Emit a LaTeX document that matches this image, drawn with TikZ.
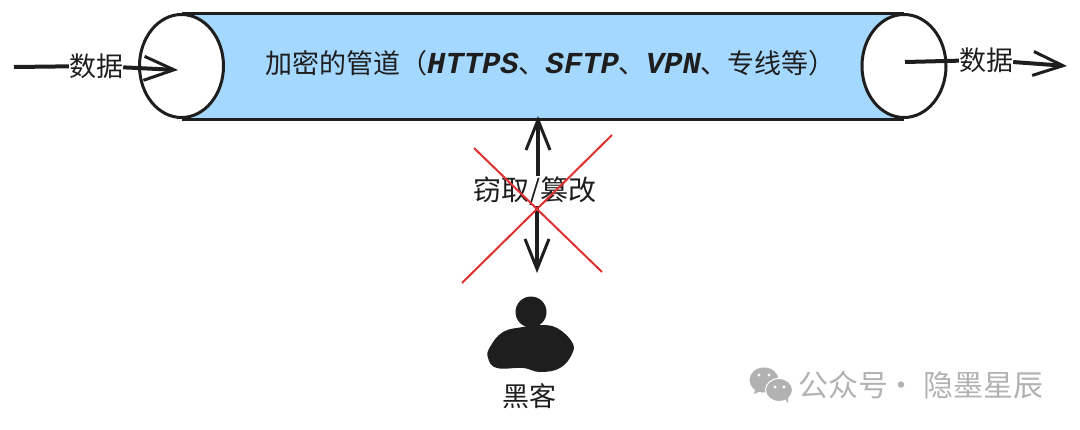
\documentclass[tikz,border=0pt]{standalone}
\usepackage{fontspec}
\setmainfont{Noto Sans CJK SC}
\newfontfamily\hand{Liberation Mono}
\usetikzlibrary{shapes.geometric}
\usetikzlibrary{arrows.meta}
\definecolor{ink}{HTML}{1E1E1E}
\definecolor{pipeblue}{HTML}{A5D8FF}
\definecolor{crossred}{HTML}{E03131}
\definecolor{markgrey}{HTML}{B2B2B2}
\newcommand{\hw}[1]{{\hand\itshape\bfseries\fontsize{30.5}{30.5}\selectfont #1}}

\begin{document}
\begin{tikzpicture}[x=1pt,y=-1pt,
    label/.style = {color=ink,font=\fontsize{27}{27}\selectfont,inner sep=0pt},
    pipeend/.style = {ellipse,draw=ink,fill=white,line width=3pt,
                minimum width=84pt,minimum height=103pt,inner sep=0pt},
    flow/.style = {draw=ink,line width=4pt,-{Straight Barb[length=30pt,width=24pt,line width=3pt]}},
    tail/.style = {draw=ink,line width=4pt},
    cross/.style = {draw=crossred,line width=2pt}
                    ]
        \useasboundingbox (0,0) rectangle (1080,429);
        % pipe
        \fill[pipeblue] (181,14) rectangle (904,118);
        \foreach \x/\v in {181.5/L, 904/R}
            \node[pipeend] at (\x,66) (\v) {};
        \draw[ink,line width=3pt] (L.north) -- (R.north);
        \draw[ink,line width=3pt] (L.south) -- (R.south);
        \node[label,anchor=west] at (265,63) (pipetext)
            {加密的管道（\hw{HTTPS}、\hw{SFTP}、\hw{VPN}、专线等）};
        % data in and out
        \node[label] at (96,66) (datain) {数据};
        \node[label] at (986,60) (dataout) {数据};
        \coordinate (a) at (14,67);
        \coordinate (b) at (178,70);
        \coordinate (c) at (905,62);
        \coordinate (d) at (1067,66);
        \draw[tail] (a) -- (datain);
        \draw[flow] (datain) -- (b);
        \draw[tail] (c) -- (dataout);
        \draw[flow] (dataout) -- (d);
        % attack
        \node[label,font=\fontsize{28}{28}\selectfont] at (535,191) (attack) {窃取/篡改};
        \coordinate (e) at (538,116);
        \coordinate (f) at (537,273);
        \draw[flow] (attack.north -| e) -- (e);
        \draw[flow] (attack.south -| f) -- (f);
        \coordinate (g) at (474,148);
        \coordinate (h) at (602,272);
        \coordinate (i) at (612,135);
        \coordinate (j) at (462,283);
        \draw[cross] (g) -- (h);
        \draw[cross] (i) -- (j);
        % hacker
        \fill[ink] (531,312) circle (15.5);
        \fill[ink] plot[smooth cycle,tension=0.7] coordinates {(490,347) (503,332) (523,327) (540,325)
            (557,328) (572,342) (572,354) (560,368) (540,372) (523,368) (497,368) (488,358)};
        \node[label] at (529,396) (hacker) {黑客};
        % mark
        \fill[markgrey] (764,380) ellipse (14.5 and 12.5);
        \fill[markgrey] (755,390) -- (754,394) -- (761,391) -- cycle;
        \fill[markgrey,draw=white,line width=1pt] (779,390) ellipse (13.5 and 11.5);
        \fill[markgrey] (785,399) -- (788,403) -- (788,397) -- cycle;
        \foreach \x/\y in {759/375, 769/375, 775/387, 784/387}
            \fill[white] (\x,\y) circle (1.6);
        \node[color=markgrey,font=\fontsize{30}{30}\selectfont,inner sep=0pt,anchor=west] at (798,385) (mark) {公众号\hspace{-2pt}·\hspace{7pt}隐墨星辰};
    \end{tikzpicture}
\end{document}
